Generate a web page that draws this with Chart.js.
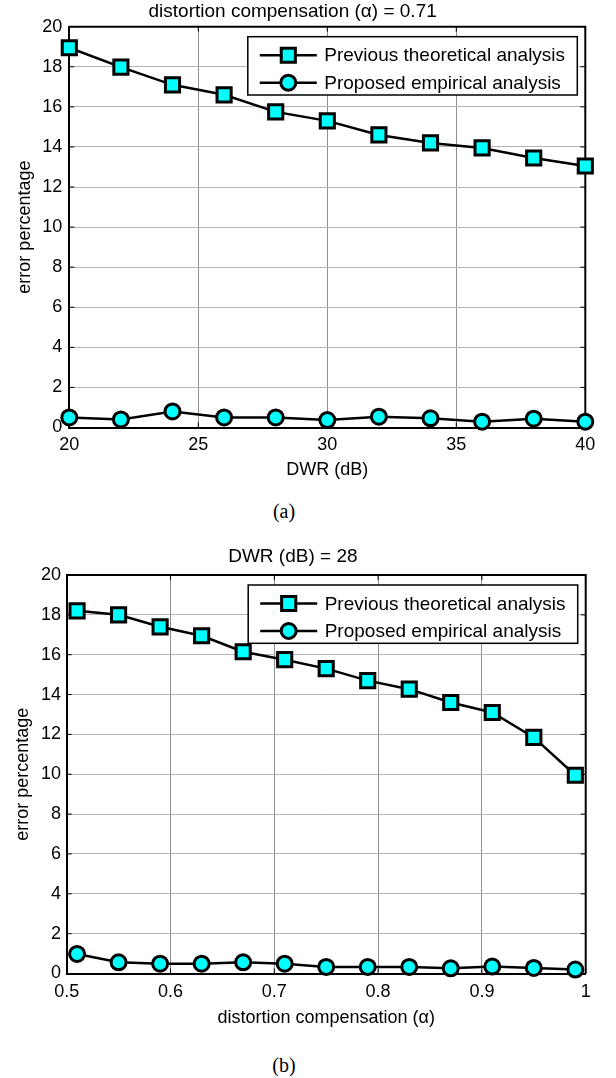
<!DOCTYPE html>
<html>
<head>
<title>Error percentage charts</title>
<script src="https://cdn.jsdelivr.net/npm/chart.js"></script>
<style>
    body { margin: 0; background: #fff; width: 616px; height: 1078px; position: relative; overflow: hidden; }
    .panel { position: absolute; left: 0; width: 616px; }
    .caption { position: absolute; width: 60px; margin-left: -30px; text-align: center;
               font-family: 'Liberation Serif', 'Times New Roman', serif; font-size: 20px; line-height: 24px; }
</style>
</head>
<body>
<div class="panel" style="top:0px"><canvas id="chartA" width="616" height="484"></canvas></div>
<div class="caption" style="left:284px;top:499px">(a)</div>
<div class="panel" style="top:540px"><canvas id="chartB" width="616" height="490"></canvas></div>
<div class="caption" style="left:284px;top:1053px">(b)</div>
<script>
    // panel (a): alpha fixed at 0.71, DWR varies
    var dwrValues = [20, 22, 24, 26, 28, 30, 32, 34, 36, 38, 40];
    var theoryByDwr = [18.95, 17.98, 17.1, 16.6, 15.75, 15.3, 14.6, 14.2, 13.95, 13.45, 13.05];
    var empiricalByDwr = [0.5, 0.4, 0.8, 0.5, 0.5, 0.37, 0.54, 0.46, 0.29, 0.44, 0.29];

    // panel (b): DWR fixed at 28 dB, alpha varies
    var alphaValues = [0.51, 0.55, 0.59, 0.63, 0.67, 0.71, 0.75, 0.79, 0.83, 0.87, 0.91, 0.95, 0.99];
    var theoryByAlpha = [18.2, 18.0, 17.4, 16.95, 16.15, 15.75, 15.3, 14.7, 14.27, 13.6, 13.1, 11.85, 9.95];
    var empiricalByAlpha = [0.98, 0.56, 0.49, 0.49, 0.56, 0.49, 0.33, 0.33, 0.33, 0.26, 0.35, 0.28, 0.2];

    var errorTicks = [0, 2, 4, 6, 8, 10, 12, 14, 16, 18, 20];
    var dwrTicks = [20, 25, 30, 35, 40];
    var alphaTicks = [0.5, 0.6, 0.7, 0.8, 0.9, 1];
    var seriesNames = ['Previous theoretical analysis', 'Proposed empirical analysis'];

    var FONT = "'Liberation Sans', Arial, sans-serif";
    Chart.defaults.font.family = FONT;
    Chart.defaults.color = '#000';

    function pointsOf(xs, ys) {
        return xs.map(function (x, i) { return { x: x, y: ys[i] }; });
    }

    function drawMarker(ctx, style, r, x, y) {
        ctx.beginPath();
        if (style === 'rect') {
            var h = Math.SQRT1_2 * r;
            ctx.rect(x - h, y - h, 2 * h, 2 * h);
        } else {
            ctx.arc(x, y, r, 0, Math.PI * 2);
        }
        ctx.fill();
        ctx.stroke();
    }

    // box frame, inward tick marks and the boxed legend
    var framePlugin = {
        id: 'frame',
        beforeDatasetsDraw: function (chart) {
            var a = chart.chartArea, ctx = chart.ctx;
            var sx = chart.scales.x, sy = chart.scales.y;
            ctx.save();
            ctx.strokeStyle = '#000';
            ctx.lineWidth = 1;
            ctx.beginPath();
            sx.ticks.forEach(function (t) {
                var p = sx.getPixelForValue(t.value);
                ctx.moveTo(p, a.top); ctx.lineTo(p, a.top + 5);
                ctx.moveTo(p, a.bottom); ctx.lineTo(p, a.bottom - 5);
            });
            sy.ticks.forEach(function (t) {
                var p = sy.getPixelForValue(t.value);
                ctx.moveTo(a.left, p); ctx.lineTo(a.left + 5, p);
                ctx.moveTo(a.right, p); ctx.lineTo(a.right - 5, p);
            });
            ctx.stroke();
            ctx.lineWidth = 2;
            ctx.beginPath();
            ctx.moveTo(a.left, a.top);
            ctx.lineTo(a.right, a.top);
            ctx.lineTo(a.right, a.bottom);
            ctx.stroke();
            ctx.restore();
        },
        afterDatasetsDraw: function (chart) {
            var a = chart.chartArea, ctx = chart.ctx;
            var left = a.right - 337.5, right = a.right - 8;
            var top = a.top + 10, bottom = a.top + 68.3;
            ctx.save();
            ctx.fillStyle = '#fff';
            ctx.fillRect(left, top, right - left, bottom - top);
            ctx.strokeStyle = '#000';
            ctx.lineWidth = 1.5;
            ctx.strokeRect(left, top, right - left, bottom - top);
            chart.data.datasets.forEach(function (ds, i) {
                var y = top + 18.5 + i * 27.5;
                ctx.strokeStyle = '#000';
                ctx.lineWidth = 2.5;
                ctx.beginPath();
                ctx.moveTo(left + 12, y);
                ctx.lineTo(left + 69, y);
                ctx.stroke();
                ctx.fillStyle = ds.pointBackgroundColor;
                ctx.lineWidth = ds.pointBorderWidth;
                drawMarker(ctx, ds.pointStyle, ds.pointRadius, left + 40.5, y);
                ctx.fillStyle = '#000';
                ctx.font = '19px ' + FONT;
                ctx.textBaseline = 'middle';
                ctx.textAlign = 'left';
                ctx.fillText(ds.label, left + 76.5, y + 1);
            });
            ctx.restore();
        }
    };

    function makeChart(id, o) {
        return new Chart(document.getElementById(id), {
            type: 'line',
            data: {
                datasets: [{
                    label: seriesNames[0],
                    data: pointsOf(o.xs, o.theory),
                    borderColor: '#000',
                    borderWidth: 2.5,
                    pointStyle: 'rect',
                    pointRadius: 10,
                    pointBorderWidth: 3,
                    pointBorderColor: '#000',
                    pointBackgroundColor: '#00ffff',
                    clip: false
                }, {
                    label: seriesNames[1],
                    data: pointsOf(o.xs, o.empirical),
                    borderColor: '#000',
                    borderWidth: 2.5,
                    pointStyle: 'circle',
                    pointRadius: 7.5,
                    pointBorderWidth: 3,
                    pointBorderColor: '#000',
                    pointBackgroundColor: '#00ffff',
                    clip: false
                }]
            },
            options: {
                responsive: false,
                animation: false,
                layout: { padding: { left: 0, right: o.padRight, top: 0, bottom: 0 } },
                plugins: {
                    legend: { display: false },
                    tooltip: { enabled: false },
                    title: {
                        display: true,
                        text: o.title,
                        color: '#000',
                        font: { size: 19, weight: 'normal' },
                        padding: { top: o.titleTop, bottom: o.titleBottom }
                    }
                },
                scales: {
                    x: {
                        type: 'linear',
                        min: o.xTicks[0],
                        max: o.xTicks[o.xTicks.length - 1],
                        afterBuildTicks: function (s) {
                            s.ticks = o.xTicks.map(function (v) { return { value: v }; });
                        },
                        afterFit: function (s) { s.height = o.xHeight; },
                        grid: { color: '#909090', lineWidth: 1, drawTicks: false },
                        border: { color: '#000', width: 2 },
                        ticks: {
                            padding: o.xTickPad, font: { size: 18 }, color: '#000',
                            callback: function (v) { return String(Math.round(v * 10) / 10); }
                        },
                        title: { display: true, text: o.xTitle, font: { size: 18 }, color: '#000',
                                 padding: { top: 0, bottom: o.xTitleBottom } }
                    },
                    y: {
                        min: 0,
                        max: 20,
                        afterBuildTicks: function (s) {
                            s.ticks = errorTicks.map(function (v) { return { value: v }; });
                        },
                        afterFit: function (s) { s.width = o.yWidth; },
                        grid: { color: '#b4b4b4', lineWidth: 1, drawTicks: false },
                        border: { color: '#000', width: 2 },
                        ticks: { padding: o.yTickPad, font: { size: 18 }, color: '#000' },
                        title: { display: true, text: 'error percentage', font: { size: 18 }, color: '#000',
                                 padding: { top: o.yTitleTop, bottom: 0 } }
                    }
                }
            },
            plugins: [framePlugin]
        });
    }

    makeChart('chartA', {
        xs: dwrValues, theory: theoryByDwr, empirical: empiricalByDwr, xTicks: dwrTicks,
        title: 'distortion compensation (\u03b1) = 0.71', xTitle: 'DWR (dB)',
        padRight: 30.7, titleTop: 0, titleBottom: 3.9,
        xHeight: 56.5, xTickPad: 7, xTitleBottom: 3,
        yWidth: 69.3, yTickPad: 7, yTitleTop: 14
    });

    makeChart('chartB', {
        xs: alphaValues, theory: theoryByAlpha, empirical: empiricalByAlpha, xTicks: alphaTicks,
        title: 'DWR (dB) = 28', xTitle: 'distortion compensation (\u03b1)',
        padRight: 30.3, titleTop: 5.6, titleBottom: 6.6,
        xHeight: 56.5, xTickPad: 7.4, xTitleBottom: 0.7,
        yWidth: 66.7, yTickPad: 5.7, yTitleTop: 12.5
    });
</script>
</body>
</html>
